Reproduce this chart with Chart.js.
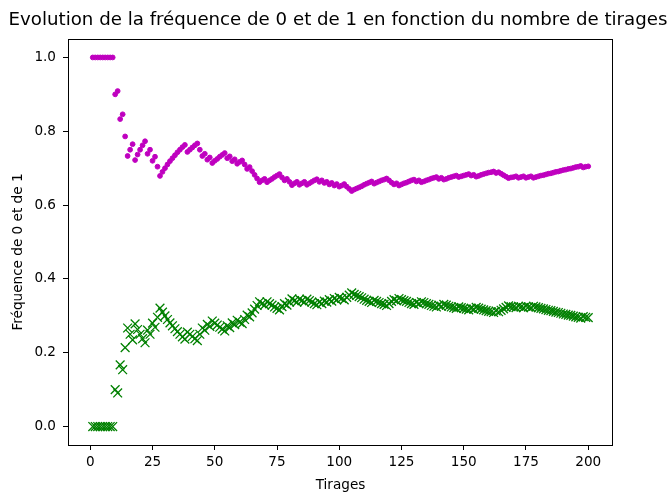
<!DOCTYPE html>
<html>
<head>
<meta charset="utf-8">
<script src="https://cdn.jsdelivr.net/npm/chart.js@4.4.0/dist/chart.umd.min.js"></script>
<style>
  html, body { margin: 0; padding: 0; background: #fff; }
  #chart { display: block; }
</style>
</head>
<body>
<canvas id="chart" width="672" height="494"></canvas>
<script>
// Numéro du tirage (1 à 200)
const tirages = Array.from({ length: 200 }, (_, i) => i + 1);

// Fréquence cumulée des 1 (points magenta)
const freqUn = [
  1, 1, 1, 1, 1, 1, 1, 1, 1, 0.9,
  0.909, 0.833, 0.846, 0.786, 0.733, 0.75, 0.765, 0.722, 0.737, 0.75,
  0.762, 0.773, 0.739, 0.75, 0.72, 0.731, 0.704, 0.679, 0.69, 0.7,
  0.71, 0.719, 0.727, 0.735, 0.743, 0.75, 0.757, 0.763, 0.744, 0.75,
  0.756, 0.762, 0.767, 0.75, 0.733, 0.739, 0.723, 0.729, 0.714, 0.72,
  0.725, 0.731, 0.736, 0.741, 0.727, 0.732, 0.719, 0.724, 0.712, 0.717,
  0.721, 0.71, 0.698, 0.703, 0.692, 0.682, 0.672, 0.662, 0.667, 0.671,
  0.662, 0.667, 0.671, 0.676, 0.68, 0.684, 0.675, 0.667, 0.671, 0.663,
  0.654, 0.659, 0.663, 0.655, 0.659, 0.663, 0.655, 0.659, 0.663, 0.667,
  0.67, 0.663, 0.667, 0.66, 0.663, 0.656, 0.66, 0.653, 0.657, 0.65,
  0.653, 0.657, 0.65, 0.644, 0.638, 0.642, 0.645, 0.648, 0.651, 0.655,
  0.658, 0.661, 0.664, 0.658, 0.661, 0.664, 0.667, 0.669, 0.672, 0.667,
  0.661, 0.656, 0.659, 0.653, 0.656, 0.659, 0.661, 0.664, 0.667, 0.669,
  0.664, 0.667, 0.662, 0.664, 0.667, 0.669, 0.672, 0.674, 0.676, 0.671,
  0.674, 0.669, 0.671, 0.674, 0.676, 0.678, 0.68, 0.676, 0.678, 0.68,
  0.682, 0.684, 0.68, 0.682, 0.677, 0.679, 0.682, 0.684, 0.686, 0.688,
  0.689, 0.691, 0.687, 0.689, 0.685, 0.681, 0.677, 0.673, 0.675, 0.676,
  0.678, 0.674, 0.676, 0.678, 0.674, 0.676, 0.678, 0.674, 0.676, 0.678,
  0.68, 0.681, 0.683, 0.685, 0.686, 0.688, 0.69, 0.691, 0.693, 0.695,
  0.696, 0.698, 0.699, 0.701, 0.703, 0.704, 0.706, 0.702, 0.704, 0.705
];

// Fréquence cumulée des 0 (croix vertes)
const freqZero = [
  0, 0, 0, 0, 0, 0, 0, 0, 0, 0.1,
  0.091, 0.167, 0.154, 0.214, 0.267, 0.25, 0.235, 0.278, 0.263, 0.25,
  0.238, 0.227, 0.261, 0.25, 0.28, 0.269, 0.296, 0.321, 0.31, 0.3,
  0.29, 0.281, 0.273, 0.265, 0.257, 0.25, 0.243, 0.237, 0.256, 0.25,
  0.244, 0.238, 0.233, 0.25, 0.267, 0.261, 0.277, 0.271, 0.286, 0.28,
  0.275, 0.269, 0.264, 0.259, 0.273, 0.268, 0.281, 0.276, 0.288, 0.283,
  0.279, 0.29, 0.302, 0.297, 0.308, 0.318, 0.328, 0.338, 0.333, 0.329,
  0.338, 0.333, 0.329, 0.324, 0.32, 0.316, 0.325, 0.333, 0.329, 0.337,
  0.346, 0.341, 0.337, 0.345, 0.341, 0.337, 0.345, 0.341, 0.337, 0.333,
  0.33, 0.337, 0.333, 0.34, 0.337, 0.344, 0.34, 0.347, 0.343, 0.35,
  0.347, 0.343, 0.35, 0.356, 0.362, 0.358, 0.355, 0.352, 0.349, 0.345,
  0.342, 0.339, 0.336, 0.342, 0.339, 0.336, 0.333, 0.331, 0.328, 0.333,
  0.339, 0.344, 0.341, 0.347, 0.344, 0.341, 0.339, 0.336, 0.333, 0.331,
  0.336, 0.333, 0.338, 0.336, 0.333, 0.331, 0.328, 0.326, 0.324, 0.329,
  0.326, 0.331, 0.329, 0.326, 0.324, 0.322, 0.32, 0.324, 0.322, 0.32,
  0.318, 0.316, 0.32, 0.318, 0.323, 0.321, 0.318, 0.316, 0.314, 0.312,
  0.311, 0.309, 0.313, 0.311, 0.315, 0.319, 0.323, 0.327, 0.325, 0.324,
  0.322, 0.326, 0.324, 0.322, 0.326, 0.324, 0.322, 0.326, 0.324, 0.322,
  0.32, 0.319, 0.317, 0.315, 0.314, 0.312, 0.31, 0.309, 0.307, 0.305,
  0.304, 0.302, 0.301, 0.299, 0.297, 0.296, 0.294, 0.298, 0.296, 0.295
];

const xTicks = [0, 25, 50, 75, 100, 125, 150, 175, 200];
const yTicks = [0, 0.2, 0.4, 0.6, 0.8, 1.0];

const titre = "Evolution de la fréquence de 0 et de 1 en fonction du nombre de tirages";
const titreY = "Fréquence de 0 et de 1";

const FONT = "'DejaVu Sans', sans-serif";

// cadre noir + titre + label vertical (placés comme dans matplotlib)
const framePlugin = {
    id: "frame",
    afterDatasetsDraw(chart) {
        const { ctx, chartArea: a } = chart;
        ctx.save();
        ctx.strokeStyle = "#000";
        ctx.lineWidth = 1;
        ctx.strokeRect(Math.round(a.left) + 0.5, Math.round(a.top) + 0.5,
            Math.round(a.right - a.left) - 1, Math.round(a.bottom - a.top));
        ctx.restore();
    },
    afterDraw(chart) {
        const { ctx } = chart;
        ctx.save();
        ctx.fillStyle = "#000";
        ctx.textAlign = "center";
        ctx.textBaseline = "middle";
        ctx.font = "18.2px " + FONT;
        ctx.fillText(titre, 338, 20);
        ctx.font = "13.6px " + FONT;
        ctx.translate(18, 252);
        ctx.rotate(-Math.PI / 2);
        ctx.fillText(titreY, 0, 0);
        ctx.restore();
    }
};

const ctx = document.getElementById("chart").getContext("2d");
new Chart(ctx, {
    type: "scatter",
    data: {
        datasets: [
            {
                label: "1",
                data: tirages.map((t, i) => ({ x: t, y: freqUn[i] })),
                pointStyle: "circle",
                pointRadius: 2.4,
                pointBorderWidth: 1,
                backgroundColor: "#bf00bf",
                borderColor: "#bf00bf"
            },
            {
                label: "0",
                data: tirages.map((t, i) => ({ x: t, y: freqZero[i] })),
                pointStyle: "crossRot",
                pointRadius: 6.2,
                pointBorderWidth: 1.3,
                backgroundColor: "#008000",
                borderColor: "#008000"
            }
        ]
    },
    options: {
        responsive: false,
        animation: false,
        layout: { padding: { top: 39, right: 59, bottom: 0, left: 0 } },
        plugins: {
            legend: { display: false },
            tooltip: { enabled: false },
            title: { display: false }
        },
        scales: {
            x: {
                type: "linear",
                min: -8.95,
                max: 209.95,
                afterFit: (scale) => { scale.height = 49; },
                afterBuildTicks: (scale) => { scale.ticks = xTicks.map(v => ({ value: v })); },
                border: { display: false },
                grid: { drawOnChartArea: false, drawTicks: true, tickLength: 5, tickColor: "#000", tickWidth: 1 },
                ticks: {
                    color: "#000",
                    font: { family: FONT, size: 13.6 },
                    padding: 4,
                    maxRotation: 0,
                    autoSkip: false
                },
                title: {
                    display: true,
                    text: "Tirages",
                    color: "#000",
                    font: { family: FONT, size: 13.6 },
                    padding: { top: 0, bottom: 0 }
                }
            },
            y: {
                type: "linear",
                min: -0.05,
                max: 1.05,
                afterFit: (scale) => { scale.width = 68; },
                afterBuildTicks: (scale) => { scale.ticks = yTicks.map(v => ({ value: v })); },
                border: { display: false },
                grid: { drawOnChartArea: false, drawTicks: true, tickLength: 5, tickColor: "#000", tickWidth: 1 },
                ticks: {
                    color: "#000",
                    font: { family: FONT, size: 13.6 },
                    padding: 7,
                    callback: (v) => Number(v).toFixed(1)
                }
            }
        }
    },
    plugins: [framePlugin]
});
</script>
</body>
</html>
